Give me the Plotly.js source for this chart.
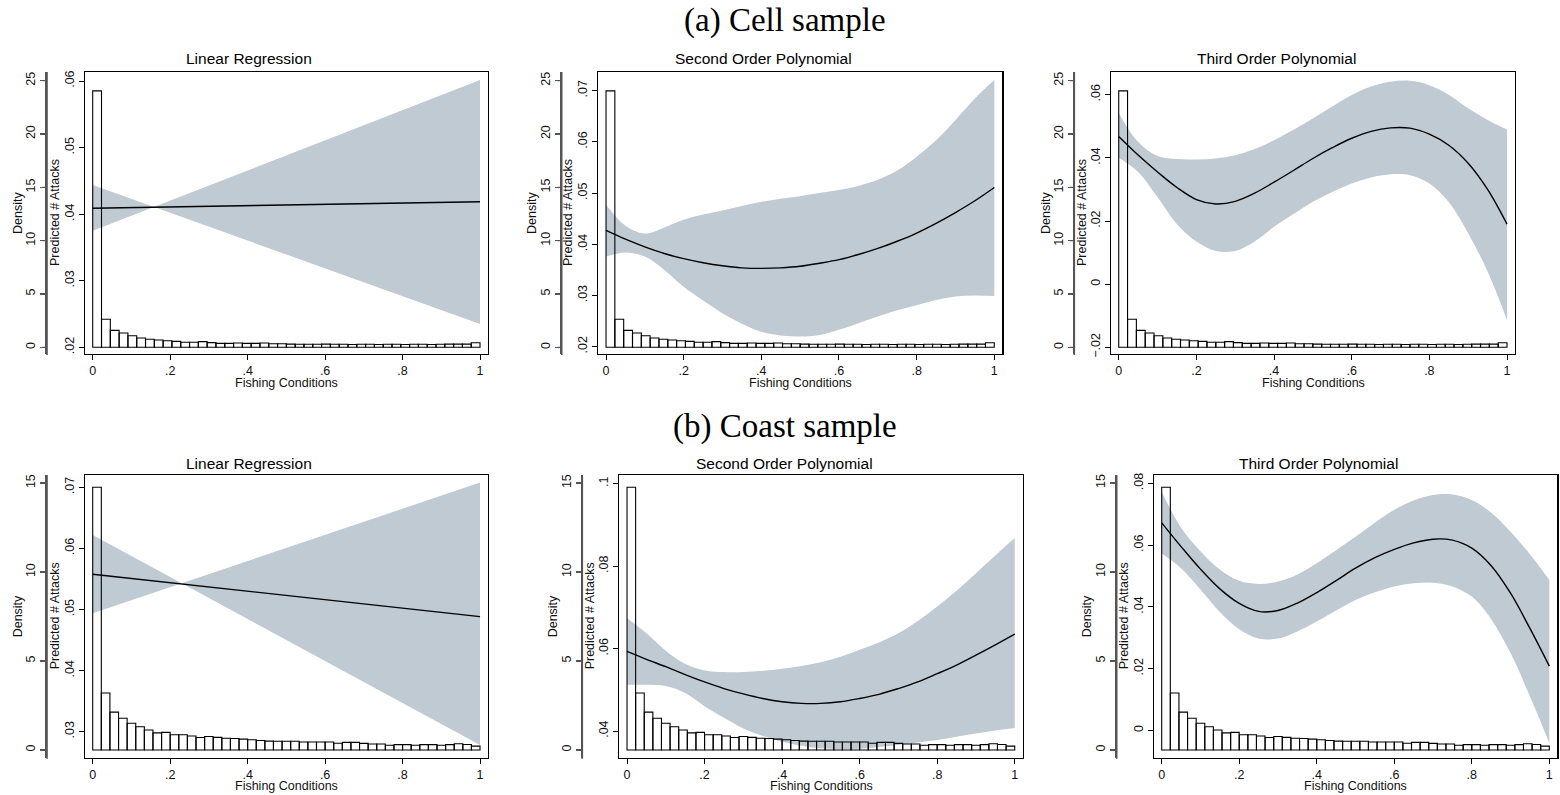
<!DOCTYPE html>
<html><head><meta charset="utf-8">
<script src="https://cdn.plot.ly/plotly-3.0.1.min.js"></script>
<style>html,body{margin:0;padding:0;background:#fff}</style>
</head><body><div id="chart" style="width:1560px;height:795px"></div>
<script>
// ---------- DATA ----------
const sectionTitles = ["(a) Cell sample", "(b) Coast sample"];
const modelTitles = ["Linear Regression", "Second Order Polynomial", "Third Order Polynomial"];
const xTickVals = [0, 0.2, 0.4, 0.6, 0.8, 1];
const xTickText = ["0", ".2", ".4", ".6", ".8", "1"];

// Histogram densities of fishing conditions (equal-width bins over [0,1])
const cellDensity = [24.05, 2.63, 1.59, 1.34, 1.09, 0.87, 0.75, 0.68, 0.62, 0.56,
  0.47, 0.47, 0.53, 0.44, 0.37, 0.37, 0.40, 0.37, 0.37, 0.40,
  0.34, 0.34, 0.30, 0.28, 0.28, 0.28, 0.30, 0.28, 0.28, 0.26,
  0.28, 0.28, 0.26, 0.28, 0.28, 0.26, 0.28, 0.28, 0.26, 0.28,
  0.30, 0.30, 0.30, 0.43];
const coastDensity = [14.76, 3.20, 2.13, 1.78, 1.50, 1.31, 1.12, 0.96, 0.99, 0.86,
  0.86, 0.79, 0.70, 0.76, 0.71, 0.66, 0.65, 0.61, 0.58, 0.53,
  0.50, 0.49, 0.49, 0.49, 0.45, 0.45, 0.45, 0.45, 0.38, 0.43,
  0.43, 0.37, 0.34, 0.34, 0.27, 0.30, 0.30, 0.27, 0.30, 0.30,
  0.27, 0.30, 0.35, 0.31, 0.22];

// Fishing-condition grid for the polynomial fits
const gridX = [0, 0.05, 0.1, 0.15, 0.2, 0.25, 0.3, 0.35, 0.4, 0.45, 0.5,
  0.55, 0.6, 0.65, 0.7, 0.75, 0.8, 0.85, 0.9, 0.95, 1];

// Cell sample fits
const cellLinX = [0, 1];
const cellLinFit = [0.04088, 0.04187];
const cellLinCiA = [0.04438, 0.02350];
const cellLinCiB = [0.03752, 0.06015];

const cellQuadFit = [0.0427, 0.0410, 0.0395, 0.0382, 0.0372, 0.0364, 0.0358, 0.0354, 0.0353, 0.0354, 0.0357,
  0.0363, 0.0370, 0.0380, 0.0392, 0.0406, 0.0422, 0.0441, 0.0462, 0.0485, 0.0511];
const cellQuadHi = [0.0477, 0.0436, 0.0421, 0.0433, 0.0448, 0.0458, 0.0466, 0.0475, 0.0483, 0.0489, 0.0494,
  0.0500, 0.0506, 0.0514, 0.0526, 0.0544, 0.0571, 0.0603, 0.0643, 0.0685, 0.0721];
const cellQuadLo = [0.0376, 0.0384, 0.0376, 0.0350, 0.0317, 0.0290, 0.0265, 0.0245, 0.0229, 0.0222, 0.0220,
  0.0223, 0.0233, 0.0246, 0.0259, 0.0271, 0.0281, 0.0291, 0.0298, 0.0300, 0.0299];

const cellCubFit = [0.0468, 0.0409, 0.0355, 0.0306, 0.0268, 0.0254, 0.0262, 0.0288, 0.0323, 0.0360, 0.0398,
  0.0432, 0.0462, 0.0484, 0.0495, 0.0494, 0.0475, 0.0440, 0.0383, 0.0300, 0.0190];
const cellCubHi = [0.0541, 0.0450, 0.0406, 0.0396, 0.0395, 0.0398, 0.0408, 0.0428, 0.0456, 0.0489, 0.0525,
  0.0563, 0.0599, 0.0626, 0.0641, 0.0644, 0.0630, 0.0600, 0.0557, 0.0520, 0.0490];
const cellCubLo = [0.0400, 0.0355, 0.0275, 0.0190, 0.0135, 0.0105, 0.0105, 0.0135, 0.0182, 0.0222, 0.0261,
  0.0292, 0.0319, 0.0338, 0.0348, 0.0345, 0.0319, 0.0260, 0.0161, 0.0040, -0.0114];

// Coast sample fits
const coastLinX = [0, 1];
const coastLinFit = [0.05577, 0.04883];
const coastLinCiA = [0.06220, 0.02782];
const coastLinCiB = [0.04938, 0.07077];

const coastQuadFit = [0.0593, 0.0574, 0.0556, 0.0537, 0.0519, 0.0503, 0.0490, 0.0479, 0.0471, 0.0467, 0.0467,
  0.0471, 0.0479, 0.0489, 0.0503, 0.0519, 0.0539, 0.0560, 0.0584, 0.0609, 0.0635];
const coastQuadHi = [0.0674, 0.0637, 0.0595, 0.0563, 0.0547, 0.0543, 0.0543, 0.0546, 0.0551, 0.0558, 0.0567,
  0.0580, 0.0597, 0.0615, 0.0637, 0.0667, 0.0702, 0.0740, 0.0783, 0.0826, 0.0868];
const coastQuadLo = [0.0512, 0.0512, 0.0509, 0.0492, 0.0460, 0.0432, 0.0406, 0.0388, 0.0374, 0.0364, 0.0358,
  0.0356, 0.0357, 0.0361, 0.0366, 0.0372, 0.0378, 0.0386, 0.0394, 0.0401, 0.0407];

const coastCubFit = [0.0672, 0.0595, 0.0522, 0.0458, 0.0411, 0.0385, 0.0388, 0.0412, 0.0446, 0.0485, 0.0525,
  0.0559, 0.0586, 0.0607, 0.0619, 0.0616, 0.0590, 0.0533, 0.0444, 0.0330, 0.0208];
const coastCubHi = [0.0773, 0.0656, 0.0580, 0.0521, 0.0484, 0.0474, 0.0482, 0.0505, 0.0541, 0.0583, 0.0627,
  0.0672, 0.0714, 0.0744, 0.0762, 0.0764, 0.0746, 0.0705, 0.0643, 0.0570, 0.0487];
const coastCubLo = [0.0573, 0.0525, 0.0456, 0.0383, 0.0327, 0.0297, 0.0297, 0.0320, 0.0352, 0.0388, 0.0422,
  0.0447, 0.0466, 0.0476, 0.0478, 0.0466, 0.0433, 0.0360, 0.0250, 0.0110, -0.0042];

const densTicksCell = [0, 5, 10, 15, 20, 25];
const densTicksCoast = [0, 5, 10, 15];
const predTicks = [
  [0.02, 0.03, 0.04, 0.05, 0.06],
  [0.02, 0.03, 0.04, 0.05, 0.06, 0.07],
  [-0.02, 0, 0.02, 0.04, 0.06],
  [0.03, 0.04, 0.05, 0.06, 0.07],
  [0.04, 0.06, 0.08, 0.1],
  [0, 0.02, 0.04, 0.06, 0.08]
];
const predTickText = [
  [".02", ".03", ".04", ".05", ".06"],
  [".02", ".03", ".04", ".05", ".06", ".07"],
  ["\u2212.02", "0", ".02", ".04", ".06"],
  [".03", ".04", ".05", ".06", ".07"],
  [".04", ".06", ".08", ".1"],
  ["0", ".02", ".04", ".06", ".08"]
];

// ---------- LAYOUT CONFIG (positions / styles) ----------
const W = 1560, H = 795;
const px = v => v / W, py = v => 1 - v / H;
const boxes = [
  {l: 85,    r: 488,    t: 72,  b: 354,   dens: 47,     tx: 249,    ty: 59,    dt: 18,   pt: 55,   xl: 383},
  {l: 598.3, r: 1002.3, t: 72,  b: 354,   dens: 561.7,  tx: 763,    ty: 59,    dt: 532,  pt: 568,  xl: 383},
  {l: 1111,  r: 1515,   t: 72,  b: 354,   dens: 1074.3, tx: 1276.7, ty: 59,    dt: 1046, pt: 1082, xl: 383},
  {l: 85,    r: 488,    t: 475, b: 757.7, dens: 47,     tx: 249,    ty: 463.3, dt: 18,   pt: 55,   xl: 786},
  {l: 619.3, r: 1022.7, t: 475, b: 757.7, dens: 582.3,  tx: 784,    ty: 463.3, dt: 553,  pt: 590,  xl: 786},
  {l: 1154,  r: 1557.3, t: 475, b: 757.7, dens: 1116.7, tx: 1318,   ty: 463.3, dt: 1087, pt: 1124, xl: 786}
];
const predRanges = [[0.018994, 0.061352], [0.018574, 0.073652], [-0.022122, 0.067188],
                    [0.025745, 0.072013], [0.033522, 0.102111], [-0.008874, 0.082688]];
const densRanges = [[-0.628, 25.816], [-0.628, 25.816], [-0.628, 25.816],
                    [-0.4326, 15.449], [-0.4326, 15.449], [-0.4326, 15.449]];
const xRange = [-0.0199, 1.0206];

const fits = [
  {x: cellLinX, fit: cellLinFit, a: cellLinCiB, b: cellLinCiA, shape: 'linear'},
  {x: gridX, fit: cellQuadFit, a: cellQuadLo, b: cellQuadHi, shape: 'spline'},
  {x: gridX, fit: cellCubFit, a: cellCubLo, b: cellCubHi, shape: 'spline'},
  {x: coastLinX, fit: coastLinFit, a: coastLinCiB, b: coastLinCiA, shape: 'linear'},
  {x: gridX, fit: coastQuadFit, a: coastQuadLo, b: coastQuadHi, shape: 'spline'},
  {x: gridX, fit: coastCubFit, a: coastCubLo, b: coastCubHi, shape: 'spline'}
];

const FONT = "Liberation Sans, Arial, Helvetica, sans-serif";
const BAND = "#bfcad3";
const DENSCOL = "#555555";
const traces = [];
const layout = {
  width: W, height: H, autosize: false,
  margin: {l: 0, r: 0, t: 0, b: 0, pad: 0},
  paper_bgcolor: "#fff", plot_bgcolor: "rgba(0,0,0,0)",
  showlegend: false, barmode: 'overlay',
  font: {family: FONT, size: 12.5, color: "#111"},
  annotations: [], shapes: []
};

for (let i = 0; i < 6; i++) {
  const bx = boxes[i];
  const n = i + 1;
  const xid = n === 1 ? 'x' : 'x' + n;
  const pid = n === 1 ? 'y' : 'y' + n;
  const dxid = 'x' + (n + 6);
  const did = 'y' + (n + 6);
  const xkey = n === 1 ? 'xaxis' : 'xaxis' + n;
  const pkey = n === 1 ? 'yaxis' : 'yaxis' + n;
  const dxkey = 'xaxis' + (n + 6);
  const dkey = 'yaxis' + (n + 6);
  const dens = i < 3 ? cellDensity : coastDensity;
  const densTicks = i < 3 ? densTicksCell : densTicksCoast;
  const nb = dens.length, w = 1 / nb;
  const centers = dens.map((_, k) => (k + 0.5) * w);
  const f = fits[i];

  // hidden x axis for the histogram subplot: starts at the density-axis line,
  // keeping the same data-to-pixel mapping as the main x axis
  const scale = (bx.r - bx.l) / (xRange[1] - xRange[0]);
  const dxRange = [xRange[0] - (bx.l - bx.dens) / scale, xRange[1]];

  layout[xkey] = {
    domain: [px(bx.l), px(bx.r)], range: xRange, anchor: pid,
    showgrid: false, zeroline: false, showline: true, mirror: true,
    linecolor: "#000", linewidth: 1.2, ticks: "outside", ticklen: 5, tickwidth: 1, tickcolor: "#000",
    tickvals: xTickVals, ticktext: xTickText, tickfont: {size: 12.5, family: FONT}
  };
  layout[pkey] = {
    domain: [py(bx.b), py(bx.t)], range: predRanges[i], anchor: xid,
    showgrid: false, zeroline: false, showline: true, mirror: true,
    linecolor: "#000", linewidth: 1.2, ticks: "outside", ticklen: 5, tickwidth: 1, tickcolor: "#000",
    tickvals: predTicks[i], ticktext: predTickText[i], tickangle: -90, tickfont: {size: 12.5, family: FONT}
  };
  layout[dxkey] = {
    domain: [px(bx.dens), px(bx.r)], range: dxRange, anchor: did,
    showgrid: false, zeroline: false, showline: false, showticklabels: false, ticks: ''
  };
  layout[dkey] = {
    domain: [py(bx.b), py(bx.t)], range: densRanges[i], anchor: dxid, side: 'left',
    showgrid: false, zeroline: false, showline: true,
    linecolor: DENSCOL, linewidth: 1.6, ticks: "outside", ticklen: 5, tickwidth: 1.2, tickcolor: DENSCOL,
    tickvals: densTicks, tickangle: -90, tickfont: {size: 12.5, family: FONT}
  };

  // density axis line and ticks, also drawn as plain arrow-less annotation strokes
  layout.annotations.push({
    xref: 'paper', yref: 'paper', x: px(bx.dens), y: py(bx.b + 1),
    axref: 'pixel', ayref: 'pixel', ax: 0, ay: -(bx.b - bx.t + 2),
    showarrow: true, arrowhead: 0, arrowwidth: 1.6, arrowcolor: DENSCOL,
    standoff: 0, startstandoff: 0, text: ' ', font: {size: 1}, borderpad: 0
  });
  densTicks.forEach(v => layout.annotations.push({
    xref: 'paper', yref: did, x: px(bx.dens), y: v,
    axref: 'pixel', ayref: 'pixel', ax: -5, ay: 0,
    showarrow: true, arrowhead: 0, arrowwidth: 1.2, arrowcolor: DENSCOL,
    standoff: 0, startstandoff: 0, text: ' ', font: {size: 1}, borderpad: 0
  }));

  traces.push({type: 'scatter', mode: 'lines', x: f.x, y: f.a, xaxis: xid, yaxis: pid,
    line: {width: 0, color: BAND, shape: f.shape, smoothing: 1}, hoverinfo: 'skip'});
  traces.push({type: 'scatter', mode: 'lines', x: f.x, y: f.b, xaxis: xid, yaxis: pid,
    line: {width: 0, color: BAND, shape: f.shape, smoothing: 1}, fill: 'tonexty', fillcolor: BAND, hoverinfo: 'skip'});
  traces.push({type: 'scatter', mode: 'lines', x: f.x, y: f.fit, xaxis: xid, yaxis: pid,
    line: {width: 1.4, color: "#000", shape: f.shape, smoothing: 1}});
  traces.push({type: 'bar', x: centers, y: dens, width: w, xaxis: dxid, yaxis: did,
    marker: {color: 'rgba(255,255,255,0)', line: {color: "#000", width: 1.1}}});

  layout.annotations.push(
    {text: modelTitles[i % 3], xref: 'paper', yref: 'paper', x: px(bx.tx), y: py(bx.ty),
     xanchor: 'center', yanchor: 'middle', showarrow: false, font: {size: 15.5, family: FONT, color: "#000"}},
    {text: "Density", xref: 'paper', yref: 'paper', x: px(bx.dt), y: py((bx.t + bx.b) / 2),
     xanchor: 'center', yanchor: 'middle', textangle: -90, showarrow: false, font: {size: 12.5, family: FONT, color: "#111"}},
    {text: "Predicted # Attacks", xref: 'paper', yref: 'paper', x: px(bx.pt), y: py((bx.t + bx.b) / 2),
     xanchor: 'center', yanchor: 'middle', textangle: -90, showarrow: false, font: {size: 12.5, family: FONT, color: "#111"}},
    {text: "Fishing Conditions", xref: 'paper', yref: 'paper', x: px((bx.l + bx.r) / 2), y: py(bx.xl),
     xanchor: 'center', yanchor: 'middle', showarrow: false, font: {size: 12.5, family: FONT, color: "#111"}}
  );
}
layout.annotations.push(
  {text: sectionTitles[0], xref: 'paper', yref: 'paper', x: px(785), y: py(21), xanchor: 'center', yanchor: 'middle',
   showarrow: false, font: {size: 33, family: "Liberation Serif, Times New Roman, serif", color: "#000"}},
  {text: sectionTitles[1], xref: 'paper', yref: 'paper', x: px(785), y: py(426), xanchor: 'center', yanchor: 'middle',
   showarrow: false, font: {size: 33, family: "Liberation Serif, Times New Roman, serif", color: "#000"}}
);

Plotly.newPlot('chart', traces, layout, {staticPlot: true, displayModeBar: false});
</script></body></html>
